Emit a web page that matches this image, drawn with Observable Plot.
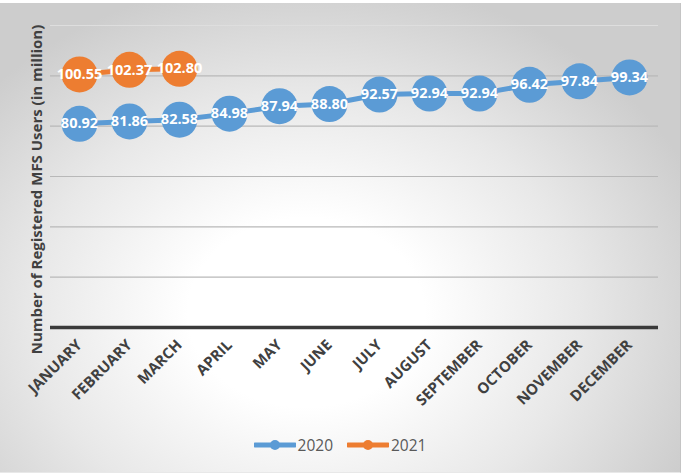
<!DOCTYPE html>
<html>
<head>
<meta charset="utf-8">
<script src="https://cdn.jsdelivr.net/npm/d3@7"></script>
<script src="https://cdn.jsdelivr.net/npm/@observablehq/plot@0.6"></script>
<style>
  html, body { margin: 0; padding: 0; background: #ffffff; }
  body { width: 685px; height: 474px; position: relative; overflow: hidden; font-family: "Open Sans", sans-serif; }
  #chart {
    position: absolute; left: 0; top: 3px; width: 680px; height: 469px;
    background: radial-gradient(ellipse 62% 72% at 45% 66%, #ffffff 0%, #ffffff 28%, #e8e8e8 65%, #cdcdcd 100%);
    border-right: 1px solid #c4c4c4;
    border-bottom: 1px solid #e8e8e8;
  }
  #legend {
    position: absolute; left: 0; width: 680px; top: 427px; height: 30px;
    display: flex; justify-content: center; align-items: center; gap: 14px;
    font-size: 15.5px; color: #595959;
  }
  .item { display: flex; align-items: center; gap: 2px; }
</style>
</head>
<body>
<div id="chart"><div id="plot"></div><div id="legend"></div></div>
<script>
const months = ["JANUARY","FEBRUARY","MARCH","APRIL","MAY","JUNE","JULY","AUGUST","SEPTEMBER","OCTOBER","NOVEMBER","DECEMBER"];
const values2020 = [80.92, 81.86, 82.58, 84.98, 87.94, 88.80, 92.57, 92.94, 92.94, 96.42, 97.84, 99.34];
const months2021 = ["JANUARY","FEBRUARY","MARCH"];
const values2021 = [100.55, 102.37, 102.80];
const seriesNames = ["2020", "2021"];
const colors = ["#5B9BD5", "#ED7D31"];
const gridValues = [20, 40, 60, 80, 100];
const yTitle = "Number of Registered MFS Users (in million)";

const d2020 = months.map((m, i) => ({month: m, value: values2020[i], series: "2020"}));
const d2021 = months2021.map((m, i) => ({month: m, value: values2021[i], series: "2021"}));

const font = "'Open Sans', sans-serif";

const chart = Plot.plot({
  width: 680,
  height: 422,
  marginLeft: 50,
  marginRight: 22,
  marginTop: 22,
  marginBottom: 98,
  style: {background: "transparent", fontFamily: font, overflow: "visible"},
  x: {type: "point", domain: months, padding: 0.5, label: null},
  y: {domain: [0, 120], axis: null},
  marks: [
    Plot.ruleY(gridValues, {stroke: "#b8b8b8", strokeWidth: 1.2}),
    Plot.ruleY([120], {stroke: "#dedede", strokeWidth: 1.2}),
    Plot.ruleY([0], {stroke: "#3a3a3a", strokeWidth: 3.5}),
    Plot.axisX({tickRotate: -45, tickSize: 0, tickPadding: 15, fontSize: 15, fontWeight: "bold", fill: "#404040", label: null}),
    Plot.line(d2020, {x: "month", y: "value", stroke: colors[0], strokeWidth: 5}),
    Plot.line(d2021, {x: "month", y: "value", stroke: colors[1], strokeWidth: 5}),
    Plot.dot(d2020, {x: "month", y: "value", r: 18, fill: colors[0], stroke: "none"}),
    Plot.dot(d2021, {x: "month", y: "value", r: 18, fill: colors[1], stroke: "none"}),
    Plot.text(d2020, {x: "month", y: "value", text: d => d.value.toFixed(2), fill: "white", fontWeight: "bold", fontSize: 14.5}),
    Plot.text(d2021, {x: "month", y: "value", text: d => d.value.toFixed(2), fill: "white", fontWeight: "bold", fontSize: 14.5}),
    Plot.text([yTitle], {frameAnchor: "left", text: d => d, rotate: -90, textAnchor: "middle", dx: -13, dy: 13, fontSize: 15, fontWeight: "bold", fill: "#404040"})
  ]
});
document.getElementById("plot").appendChild(chart);

const legend = document.getElementById("legend");
seriesNames.forEach((name, i) => {
  const item = document.createElement("div");
  item.className = "item";
  item.innerHTML = `<svg width="42" height="12"><line x1="1" y1="6" x2="41" y2="6" stroke="${colors[i]}" stroke-width="5" stroke-linecap="round"/><circle cx="21" cy="6" r="5" fill="${colors[i]}"/></svg><span>${name}</span>`;
  legend.appendChild(item);
});
</script>
</body>
</html>
